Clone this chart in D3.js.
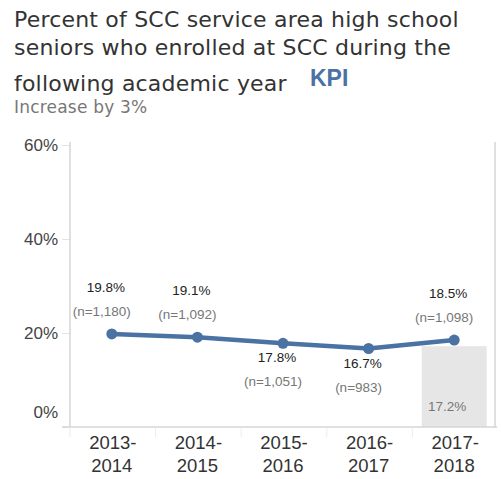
<!DOCTYPE html>
<html>
<head>
<meta charset="utf-8">
<script src="https://cdn.jsdelivr.net/npm/d3@7"></script>
<style>
  body { margin: 0; background: #fff; }
  svg { display: block; font-family: "Liberation Sans", Arial, sans-serif; }
</style>
</head>
<body>
<svg id="chart" width="501" height="479"></svg>
<script>
// data
const years = ['2013-2014', '2014-2015', '2015-2016', '2016-2017', '2017-2018'];
const rates = [19.8, 19.1, 17.8, 16.7, 18.5];
const counts = ['1,180', '1,092', '1,051', '983', '1,098'];
const labelSide = ['above', 'above', 'below', 'below', 'above'];
const targetYear = '2017-2018';
const targetRate = 17.2;
const yTicks = [0, 20, 40, 60];

const titleLines = [
    'Percent of SCC service area high school',
    'seniors who enrolled at SCC during the',
    'following academic year'
];
const subtitle = 'Increase by 3%';

const svg = d3.select('#chart');

// pane
const paneLeft = 69, paneRight = 497, paneTop = 142, paneBottom = 427;

const x = d3.scaleBand()
    .domain(years)
    .range([paneLeft, paneRight]);

const y = d3.scaleLinear()
    .domain([0, 60])
    .range([paneBottom, 145]);

// title
const title = svg.append('g').attr('class', 'title');
const titleY = [27, 55, 91];
title.selectAll('text.line')
    .data(titleLines)
    .enter()
    .append('text')
    .attr('class', 'line')
    .attr('x', 14)
    .attr('y', (d, i) => titleY[i])
    .attr('font-family', '"DejaVu Sans", sans-serif')
    .attr('font-size', 22)
    .attr('letter-spacing', 0.2)
    .attr('fill', '#333')
    .text(d => d);

title.append('text')
    .attr('x', 310)
    .attr('y', 86)
    .attr('font-size', 23)
    .attr('font-weight', 'bold')
    .attr('fill', '#4a72a2')
    .text('KPI');

title.append('text')
    .attr('x', 14)
    .attr('y', 113)
    .attr('font-family', '"DejaVu Sans", sans-serif')
    .attr('font-size', 17)
    .attr('letter-spacing', 0.2)
    .attr('fill', '#777')
    .text(subtitle);

// target bar
svg.append('rect')
    .attr('x', x(targetYear) + (x.bandwidth() - 65) / 2)
    .attr('y', y(targetRate))
    .attr('width', 65)
    .attr('height', y(0) - y(targetRate))
    .attr('fill', '#e6e6e6');

svg.append('text')
    .attr('x', x(targetYear) + x.bandwidth() / 2 - 7)
    .attr('y', 411)
    .attr('text-anchor', 'middle')
    .attr('font-size', 13.5)
    .attr('fill', '#777')
    .text(targetRate.toFixed(1) + '%');

// y axis
const yAxis = svg.append('g')
    .attr('transform', `translate(${paneLeft + 1},0)`)
    .call(d3.axisLeft(y)
        .tickValues(yTicks)
        .tickSize(8)
        .tickFormat(d => d + '%'));
yAxis.select('.domain').remove();
yAxis.selectAll('.tick line').attr('stroke', '#e4e4e4');
yAxis.selectAll('.tick text')
    .attr('x', -12)
    .attr('font-size', 17)
    .attr('font-family', '"Liberation Sans", Arial, sans-serif')
    .attr('fill', '#444')
    .attr('dy', (d) => d === 0 ? '-0.55em' : '0.32em');

// pane lines
svg.append('line')
    .attr('x1', paneLeft + 1).attr('x2', paneLeft + 1)
    .attr('y1', paneTop).attr('y2', paneBottom)
    .attr('stroke', '#d6d6d6').attr('stroke-width', 1.5);
svg.append('line')
    .attr('x1', paneRight - 2).attr('x2', paneRight - 2)
    .attr('y1', paneTop).attr('y2', paneBottom)
    .attr('stroke', '#d6d6d6').attr('stroke-width', 1.5);
svg.append('line')
    .attr('x1', 62).attr('x2', paneRight)
    .attr('y1', paneBottom).attr('y2', paneBottom)
    .attr('stroke', '#d6d6d6').attr('stroke-width', 1.5);

// x axis separators + labels
const xAxis = svg.append('g').attr('class', 'x-axis');
xAxis.selectAll('line.sep')
    .data(years)
    .enter()
    .append('line')
    .attr('class', 'sep')
    .attr('x1', d => x(d) + 1).attr('x2', d => x(d) + 1)
    .attr('y1', paneBottom).attr('y2', paneBottom + 10)
    .attr('stroke', '#ececec');

const xl = xAxis.selectAll('text.year')
    .data(years)
    .enter()
    .append('text')
    .attr('class', 'year')
    .attr('x', d => x(d) + x.bandwidth() / 2)
    .attr('text-anchor', 'middle')
    .attr('font-size', 18.5)
    .attr('fill', '#333');
xl.append('tspan')
    .attr('x', d => x(d) + x.bandwidth() / 2 + 1)
    .attr('y', 449)
    .text(d => d.split('-')[0] + '-');
xl.append('tspan')
    .attr('x', d => x(d) + x.bandwidth() / 2)
    .attr('y', 472)
    .text(d => d.split('-')[1]);

// line + points
const points = years.map((d, i) => ({ year: d, rate: rates[i], n: counts[i], side: labelSide[i] }));
const cx = d => x(d.year) + x.bandwidth() / 2;

svg.append('path')
    .datum(points)
    .attr('fill', 'none')
    .attr('stroke', '#4a72a2')
    .attr('stroke-width', 4.5)
    .attr('stroke-linejoin', 'round')
    .attr('d', d3.line().x(cx).y(d => y(d.rate)));

svg.selectAll('circle.pt')
    .data(points)
    .enter()
    .append('circle')
    .attr('class', 'pt')
    .attr('cx', cx)
    .attr('cy', d => y(d.rate))
    .attr('r', 5.5)
    .attr('fill', '#4a72a2');

// labels
svg.selectAll('text.pct')
    .data(points)
    .enter()
    .append('text')
    .attr('class', 'pct')
    .attr('x', d => cx(d) - 6)
    .attr('y', d => y(d.rate) + (d.side === 'above' ? -42 : 19))
    .attr('text-anchor', 'middle')
    .attr('font-size', 13.5)
    .attr('fill', '#222')
    .text(d => d.rate.toFixed(1) + '%');

svg.selectAll('text.cnt')
    .data(points)
    .enter()
    .append('text')
    .attr('class', 'cnt')
    .attr('x', d => cx(d) - 10)
    .attr('y', d => y(d.rate) + (d.side === 'above' ? -18 : 43))
    .attr('text-anchor', 'middle')
    .attr('font-size', 13.5)
    .attr('fill', '#777')
    .text(d => '(n=' + d.n + ')');
</script>
</body>
</html>
